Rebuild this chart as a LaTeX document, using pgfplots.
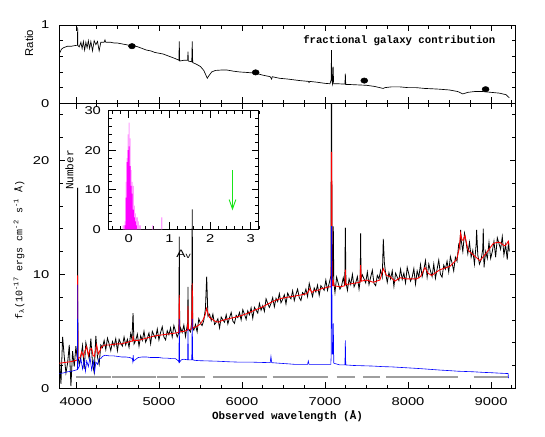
\documentclass[border=0pt]{standalone}
\usepackage{fontspec}
\usepackage{pgfplots}
\pgfplotsset{compat=1.18}
\usetikzlibrary{arrows.meta}
\setmainfont{Liberation Sans}
\newfontfamily\tickfont[FakeStretch=1.3]{Liberation Sans}
\newfontfamily\monofont{Liberation Mono}
\definecolor{specred}{rgb}{1,0,0}
\definecolor{specblue}{rgb}{0,0,1}
\definecolor{dashgray}{rgb}{0.62,0.62,0.62}
\definecolor{arrowgreen}{rgb}{0.1,0.9,0.1}
\definecolor{hmag}{rgb}{1,0,1}
\definecolor{hpink}{rgb}{1,0.62,1}
\pgfplotsset{myax/.style={scale only axis, anchor=south west, tick align=inside,
  xtick pos=both, ytick pos=both, axis line style={line width=0.75pt},
  tick style={black, line width=0.6pt},
  major tick length=4.5pt, minor tick length=2.7pt,
  ticklabel style={font=\tickfont\fontsize{8.5}{10}\selectfont},
  /pgf/number format/assume math mode=true, /pgf/number format/1000 sep={}}}
\begin{document}
\begin{tikzpicture}
\path[use as bounding box] (0pt,0pt) rectangle (408.75pt,-327pt);

% ---------------- top panel: ratio ----------------
\begin{axis}[myax, at={(44.475pt,-77.475pt)}, width=342.5pt, height=58.7pt,
  xmin=3800, xmax=9300, ymin=0, ymax=1,
  xtick={3000,4000,...,10000}, minor x tick num=3, xticklabels={},
  ytick={0,1}, minor y tick num=4,
  yticklabel style={xshift=-4pt}]
\addplot[black, line width=0.5pt] coordinates {
(3800,0.63) (3825,0.69) (3850,0.71) (3900,0.73) (3950,0.73) (4000,0.74) (4018,0.74) (4021,0.97) (4024,0.74)
(4040,0.72) (4060,0.78) (4075,0.70) (4090,0.79) (4105,0.68) (4120,0.78) (4135,0.71) (4150,0.80) (4165,0.70)
(4180,0.79) (4200,0.67) (4220,0.80) (4240,0.75) (4260,0.79) (4280,0.67) (4300,0.78) (4340,0.78) (4350,0.81)
(4360,0.78) (4420,0.78) (4460,0.77) (4500,0.77) (4550,0.76) (4600,0.75) (4650,0.74) (4688,0.74) (4750,0.72)
(4800,0.70) (4850,0.68) (4900,0.67) (4950,0.65) (5000,0.64) (5050,0.63) (5100,0.61) (5150,0.59) (5200,0.57)
(5240,0.55) (5245,0.79) (5250,0.54) (5300,0.55) (5345,0.55) (5350,0.66) (5355,0.54) (5395,0.53) (5401,0.79)
(5407,0.52) (5450,0.50) (5500,0.47) (5540,0.42) (5570,0.35) (5582,0.32) (5600,0.35) (5635,0.40) (5680,0.42)
(5750,0.425) (5820,0.425) (5900,0.41) (5976,0.40) (6050,0.395) (6165,0.385) (6250,0.36) (6340,0.34) (6357,0.31)
(6365,0.34) (6450,0.32) (6550,0.31) (6698,0.29) (6800,0.28) (6808,0.265) (6816,0.28) (6900,0.27) (7000,0.255)
(7060,0.25) (7074,0.30) (7078,0.68) (7082,0.30) (7090,0.25) (7098,0.47) (7104,0.25) (7150,0.25) (7240,0.245)
(7245,0.38) (7250,0.24) (7300,0.24) (7400,0.235) (7500,0.23) (7600,0.215) (7700,0.19) (7720,0.20) (7800,0.21)
(7900,0.21) (8000,0.20) (8100,0.20) (8200,0.19) (8300,0.185) (8384,0.18) (8500,0.17) (8600,0.15) (8660,0.12)
(8720,0.14) (8800,0.15) (8900,0.15) (9000,0.14) (9100,0.13) (9180,0.11) (9220,0.07)};
\addplot[only marks, mark=*, mark size=2.0pt, mark options={xscale=1.3, fill=black}] coordinates {
(4675,0.73) (6165,0.395) (7473,0.29) (8934,0.18)};
\end{axis}

% ---------------- bottom panel: spectra ----------------
\begin{axis}[myax, at={(44.475pt,-291.225pt)}, width=342.5pt, height=213.75pt,
  xmin=3800, xmax=9300, ymin=0, ymax=25,
  xtick={3000,4000,...,10000}, minor x tick num=3,
  ytick={0,10,20,30}, minor y tick num=4,
  xticklabel style={yshift=-3.5pt}, yticklabel style={xshift=-4pt},
  unbounded coords=jump]
% gray dashed line
\addplot[dashgray, line width=1.5pt] coordinates {
(4000,0.95) (4420,0.95) (4430,nan) (4440,0.95) (4960,0.95) (4968,nan) (4975,0.95) (5230,0.95) (5245,nan)
(5260,0.95) (5560,0.95) (5600,nan) (5650,0.95) (6300,0.95) (6330,nan) (6370,0.95) (7040,0.95) (7090,nan)
(7140,0.95) (7360,0.95) (7400,nan) (7460,0.95) (7660,0.95) (7700,nan) (7740,0.95) (8600,0.95) (8700,nan)
(8790,0.95) (9200,0.95)};
% observed spectrum (black)
\addplot[black, line width=0.6pt] coordinates {
(3800,2.9) (3820,0.4) (3840,4.5) (3860,2.75) (3880,1.35) (3900,2.2) (3920,3.8) (3940,0.2) (3960,3.25) (3980,1.9)
(4000,3.7) (4010,3.0) (4018,2.6) (4021,17.6) (4024,2.8) (4040,2.1) (4060,2.75) (4080,3.75) (4100,1.7) (4120,4.0)
(4140,3.3) (4160,2.6) (4180,4.35) (4200,2.2) (4220,1.4) (4240,4.6) (4260,2.75) (4280,2.1) (4300,3.8) (4320,3.57)
(4340,4.2) (4360,3.4) (4380,4.4) (4400,3.9) (4420,3.3) (4440,4.1) (4460,3.7) (4480,4.35) (4500,3.3) (4520,4.3)
(4540,3.95) (4560,3.7) (4580,4.5) (4600,3.8) (4620,4.3) (4640,3.6) (4660,4.8) (4675,4.3) (4688,6.6) (4700,3.9)
(4720,4.2) (4740,4.75) (4760,3.7) (4780,4.6) (4800,4.2) (4820,5.0) (4840,4.05) (4860,4.4) (4880,4.85) (4900,3.9)
(4920,5.0) (4940,4.65) (4960,4.4) (4980,5.2) (5000,4.25) (5020,4.9) (5040,5.4) (5060,4.5) (5080,4.25) (5100,5.05)
(5120,4.7) (5140,5.3) (5160,4.5) (5180,5.5) (5200,5.0) (5220,4.5) (5240,4.9) (5245,13.3) (5250,4.8) (5260,5.3)
(5280,4.9) (5300,5.55) (5320,4.55) (5340,5.5) (5346,5.1) (5350,8.9) (5354,5.2) (5380,4.95) (5395,5.8) (5401,15.7)
(5407,5.3) (5420,5.1) (5440,5.6) (5460,4.95) (5480,6.1) (5500,5.7) (5520,5.5) (5540,5.95) (5560,7.0) (5575,9.8)
(5590,6.3) (5610,6.5) (5630,5.95) (5650,6.5) (5670,5.6) (5690,5.8) (5710,6.1) (5730,5.3) (5750,6.25) (5770,6.0)
(5790,5.8) (5810,6.45) (5830,5.65) (5850,6.2) (5870,6.65) (5890,5.9) (5910,5.7) (5930,6.4) (5950,6.2) (5970,6.65)
(5990,6.0) (6010,6.9) (6030,6.5) (6050,6.05) (6070,6.8) (6090,6.45) (6110,7.05) (6130,6.15) (6150,7.1) (6170,6.85)
(6190,6.6) (6210,7.45) (6230,6.85) (6250,7.25) (6270,6.75) (6290,7.85) (6310,7.45) (6330,7.1) (6350,7.45) (6370,7.95)
(6390,7.15) (6410,7.9) (6430,7.6) (6450,8.3) (6470,7.5) (6490,7.8) (6510,8.2) (6530,7.4) (6550,8.35) (6570,8.05)
(6590,7.85) (6610,8.55) (6630,7.7) (6650,8.25) (6670,8.7) (6690,7.95) (6710,7.7) (6730,8.4) (6750,8.2) (6770,8.7)
(6790,8.05) (6810,9.2) (6830,8.6) (6850,8.05) (6870,8.8) (6890,8.45) (6910,9.05) (6930,8.15) (6950,9.0) (6970,8.8)
(6990,8.6) (7010,9.5) (7030,8.6) (7050,9.2) (7066,9.7) (7072,9.9) (7076,26) (7080,26) (7085,9.5) (7095,10.0)
(7100,14.2) (7106,9.3) (7120,8.4) (7140,9.75) (7160,9.2) (7180,8.7) (7200,9.0) (7220,9.7) (7238,9.0) (7245,14.1)
(7252,9.3) (7270,8.6) (7290,9.6) (7310,9.1) (7330,10.0) (7350,8.9) (7370,9.25) (7390,9.8) (7410,8.7) (7424,9.5)
(7429,13.6) (7434,9.6) (7450,9.95) (7470,9.6) (7490,9.25) (7510,10.2) (7530,9.1) (7550,9.75) (7570,10.35) (7590,9.2)
(7610,9.0) (7630,9.9) (7650,9.6) (7670,10.35) (7690,9.75) (7702,13.1) (7715,11.0) (7730,10.1) (7750,9.3) (7770,10.15)
(7790,9.6) (7810,10.3) (7830,8.95) (7850,10.1) (7870,9.75) (7890,9.45) (7910,10.45) (7930,9.55) (7950,10.1) (7970,9.25)
(7990,10.6) (8010,10.0) (8030,9.4) (8050,9.75) (8070,10.5) (8090,9.15) (8110,10.3) (8130,9.75) (8150,10.85) (8170,9.8)
(8190,10.4) (8210,11.2) (8230,9.75) (8250,10.9) (8270,10.3) (8290,9.8) (8310,10.9) (8330,9.65) (8350,10.45) (8370,11.25)
(8390,10.0) (8410,9.75) (8430,10.8) (8450,10.45) (8470,11.15) (8490,10.2) (8510,11.55) (8530,11.0) (8550,10.3) (8570,11.5)
(8590,11.15) (8610,12.6) (8625,12.3) (8633,13.9) (8640,13.0) (8660,12.0) (8680,13.6) (8700,12.8) (8720,11.8) (8740,12.8)
(8760,11.5) (8780,12.1) (8800,10.9) (8820,12.6) (8826,13.9) (8840,11.7) (8860,10.9) (8880,11.3) (8900,12.2) (8906,14.0)
(8915,10.6) (8935,12.0) (8955,11.4) (8975,12.8) (8995,11.4) (9015,12.0) (9035,12.9) (9055,11.5) (9075,13.2) (9095,12.7)
(9115,12.2) (9135,13.3) (9155,11.7) (9175,12.6) (9195,11.3) (9210,12.9) (9220,12.0)};
% model (red)
\addplot[specred, line width=0.65pt] coordinates {
(3800,2.2) (3850,2.25) (3900,2.3) (3950,2.35) (4000,2.45) (4018,2.5) (4021,9.9) (4024,2.6) (4050,2.7) (4070,3.2)
(4090,2.8) (4110,3.3) (4129,3.65) (4150,2.9) (4170,3.4) (4190,3.5) (4205,2.9) (4222,2.8) (4250,3.8) (4270,3.0)
(4290,3.3) (4310,3.65) (4350,3.8) (4400,3.8) (4450,3.85) (4500,3.9) (4550,3.9) (4600,4.0) (4650,4.1) (4683,4.15)
(4688,4.6) (4693,4.2) (4750,4.2) (4800,4.3) (4850,4.4) (4900,4.5) (4950,4.6) (5000,4.65) (5050,4.7) (5100,4.75)
(5150,4.8) (5200,4.85) (5240,4.9) (5245,8.2) (5250,4.95) (5300,5.0) (5345,5.1) (5350,7.2) (5355,5.15) (5395,5.2)
(5401,9.2) (5407,5.3) (5450,5.4) (5500,5.65) (5530,6.0) (5555,6.4) (5574,7.0) (5590,6.6) (5610,6.2) (5635,6.1)
(5670,5.9) (5715,5.8) (5760,5.95) (5835,6.1) (5900,6.2) (5956,6.3) (6000,6.4) (6076,6.6) (6150,6.85) (6237,7.1)
(6300,7.35) (6397,7.7) (6480,7.9) (6558,8.0) (6640,8.1) (6718,8.2) (6780,8.3) (6800,8.5) (6819,8.75) (6840,8.4)
(6879,8.6) (6920,8.6) (6960,8.75) (7000,8.8) (7040,8.9) (7074,8.9) (7077,20.7) (7081,20.7) (7086,9.0) (7098,9.0)
(7100,9.5) (7106,9.0) (7180,8.9) (7240,9.0) (7245,10.4) (7250,9.1) (7340,9.2) (7420,9.3) (7429,10.8) (7438,9.4)
(7501,9.5) (7581,9.3) (7662,9.5) (7702,10.5) (7740,9.9) (7782,9.8) (7842,9.4) (7903,9.7) (7983,9.6) (8103,9.6)
(8150,9.8) (8204,10.6) (8240,10.1) (8284,9.9) (8384,10.4) (8505,10.7) (8585,11.3) (8615,12.2) (8633,13.6) (8650,13.0)
(8665,13.0) (8685,13.4) (8705,12.7) (8725,12.1) (8786,11.7) (8866,11.2) (8946,11.9) (9026,12.7) (9070,12.8) (9107,12.8)
(9140,12.6) (9167,12.5) (9190,12.7) (9207,12.9) (9215,12.6)};
% AGN component (blue)
\addplot[specblue, line width=0.45pt] coordinates {
(3800,1.3) (3850,1.35) (3900,1.45) (3950,1.5) (4000,1.6) (4018,1.65) (4021,9.1) (4024,1.7) (4040,1.9) (4060,2.6)
(4080,1.7) (4100,2.5) (4115,1.5) (4130,2.4) (4150,1.9) (4170,2.7) (4190,1.6) (4210,2.4) (4225,1.4) (4240,2.3)
(4260,2.1) (4280,2.6) (4300,2.6) (4320,2.8) (4350,2.9) (4400,2.85) (4450,2.85) (4500,2.8) (4550,2.75) (4600,2.75)
(4650,2.7) (4680,2.6) (4685,2.35) (4690,2.9) (4695,2.4) (4750,2.7) (4800,2.75) (4850,2.75) (4900,2.7) (4950,2.7)
(5000,2.7) (5050,2.65) (5100,2.65) (5150,2.6) (5200,2.6) (5235,2.4) (5240,2.3) (5245,6.1) (5250,2.3) (5270,2.5)
(5300,2.55) (5345,2.5) (5350,5.2) (5355,2.5) (5395,2.5) (5401,6.1) (5407,2.5) (5434,2.45) (5500,2.42) (5600,2.4)
(5700,2.38) (5835,2.33) (5950,2.3) (6100,2.3) (6237,2.27) (6340,2.25) (6349,2.8) (6358,2.25) (6450,2.2) (6550,2.15)
(6638,2.1) (6790,2.1) (6799,2.4) (6808,2.1) (6950,2.1) (7040,2.1) (7070,2.1) (7074,2.8) (7077,14.2) (7081,14.2)
(7086,3.0) (7095,3.0) (7100,5.7) (7106,2.2) (7180,2.05) (7240,2.05) (7245,4.2) (7250,2.05) (7350,2.0) (7450,1.98)
(7581,1.95) (7700,1.9) (7800,1.88) (7983,1.8) (8100,1.75) (8200,1.7) (8384,1.6) (8500,1.55) (8600,1.5) (8786,1.45)
(8900,1.4) (9000,1.37) (9100,1.33) (9187,1.3) (9205,1.3) (9210,0.9)};
\end{axis}

% ---------------- inset: A_V histogram ----------------
\begin{axis}[myax, at={(81.225pt,-171.975pt)}, width=113.0pt, height=88.95pt,
  xmin=-0.5, xmax=3.2, ymin=0, ymax=30,
  xtick={-1,0,1,2,3,4}, minor x tick num=4,
  ytick={0,10,20,30}, minor y tick num=4,
  major tick length=5.5pt, minor tick length=2.8pt,
  xticklabel style={yshift=-0.7pt}, yticklabel style={xshift=-2pt}]
\addplot[ybar interval, fill=hpink, draw=none] coordinates {
(-0.15,1) (-0.125,1) (-0.1,2) (-0.075,12) (-0.05,18) (-0.025,24) (0,27) (0.025,23) (0.05,15) (0.075,12)
(0.1,11) (0.125,6) (0.15,4) (0.175,3) (0.2,3) (0.225,2) (0.25,1) (0.275,1) (0.3,0) (0.575,1) (0.6,0)
(0.8,3) (0.825,0)};
\addplot[ybar interval, fill=hmag, draw=none] coordinates {
(-0.1,1) (-0.075,8) (-0.05,17) (-0.025,20) (0,21) (0.025,16) (0.05,11) (0.075,9) (0.1,5) (0.125,3)
(0.15,2) (0.175,1) (0.2,0)};
\addplot[arrowgreen, line width=0.7pt, -{Straight Barb[length=7pt,width=5pt]}] coordinates {(2.55,15) (2.55,4.8)};
\end{axis}

% ---------------- labels ----------------
\node[rotate=90, font=\fontsize{8.5}{10}\selectfont] at (21.75pt,-32.25pt) {Ratio};
\node[rotate=90, font=\monofont\fontsize{7.5}{9}\selectfont] at (14.25pt,-187.5pt)
  {f\textsubscript{λ}(10\textsuperscript{-17} ergs cm\textsuperscript{-2} s\textsuperscript{-1} Å)};
\node[font=\monofont\bfseries\fontsize{8.2}{10}\selectfont] at (215.6pt,-312pt) {Observed wavelength (Å)};
\node[anchor=east, font=\monofont\bfseries\fontsize{8}{10}\selectfont] at (375pt,-30.75pt) {fractional galaxy contribution};
\node[rotate=90, font=\monofont\fontsize{8.3}{10}\selectfont] at (52.1pt,-127.5pt) {Number};
\node[font=\tickfont\fontsize{8}{10}\selectfont] at (138pt,-190.5pt) {A\textsubscript{v}};
\end{tikzpicture}
\end{document}
